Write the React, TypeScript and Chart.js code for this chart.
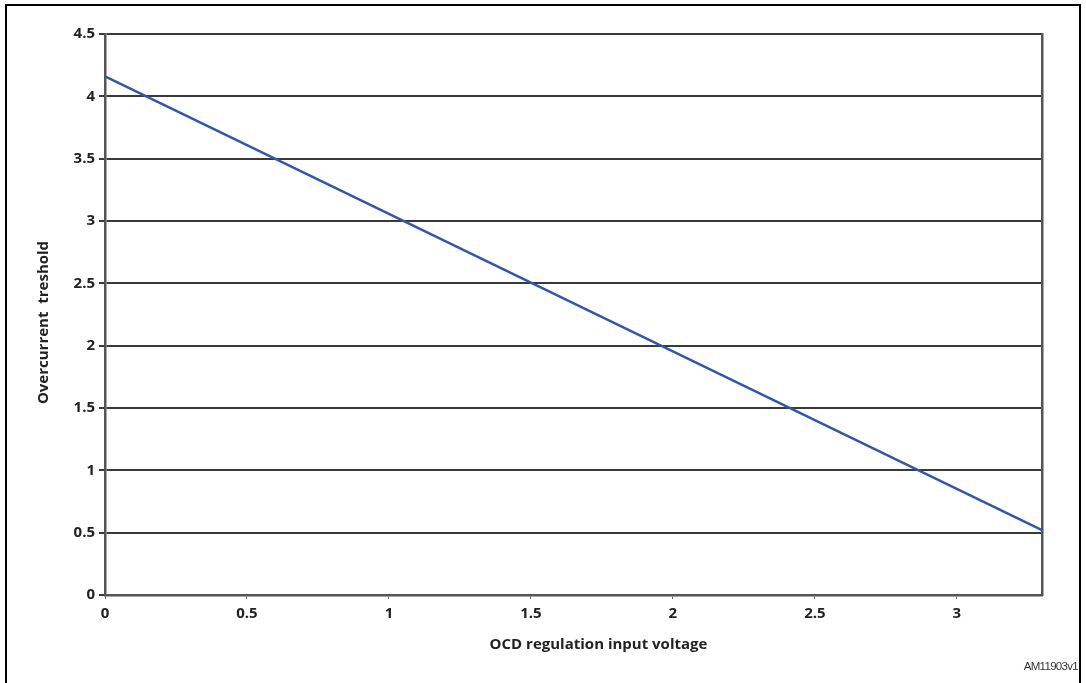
import React, { useEffect, useRef } from "react";
import { Chart, registerables } from "chart.js";

Chart.register(...registerables);

const xValues = [0, 3.3];
const yValues = [4.16, 0.52];
const seriesLabel = "Overcurrent treshold";
const xTitle = "OCD regulation input voltage";
const yTitle = "Overcurrent  treshold";
const figureId = "AM11903v1";

const FAMILY = "'Open Sans', 'Liberation Sans', sans-serif";

const titlePlugin = {
  id: "axisTitles",
  afterDraw(chart: any) {
    const { ctx, chartArea } = chart;
    ctx.save();
    ctx.fillStyle = "#222";
    ctx.font = `bold 15px ${FAMILY}`;
    ctx.textAlign = "center";
    ctx.textBaseline = "middle";
    ctx.fillText(xTitle, (chartArea.left + chartArea.right) / 2 + 25, chartArea.bottom + 50);
    ctx.translate(44, (chartArea.top + chartArea.bottom) / 2 + 8);
    ctx.rotate(-Math.PI / 2);
    ctx.fillText(yTitle, 0, 0);
    ctx.restore();
  },
};

export default function App() {
  const ref = useRef<HTMLCanvasElement | null>(null);

  useEffect(() => {
    if (!ref.current) return;
    const font = { family: FAMILY, size: 15, weight: "bold" as const };
    const fmt = (v: any) => String(Number(v));
    const chart = new Chart(ref.current, {
      type: "scatter",
      data: {
        datasets: [
          {
            label: seriesLabel,
            data: xValues.map((x, i) => ({ x, y: yValues[i] })),
            showLine: true,
            borderColor: "#3556a3",
            borderWidth: 2.5,
            pointRadius: 0,
            fill: false,
          },
        ],
      },
      options: {
        animation: false,
        responsive: false,
        devicePixelRatio: 1,
        layout: { padding: { left: 0, top: 34, right: 44, bottom: 28 } },
        plugins: { legend: { display: false }, tooltip: { enabled: false } },
        scales: {
          x: {
            type: "linear",
            min: 0,
            max: 3.3,
            afterBuildTicks: (s: any) => {
              s.ticks = s.ticks.filter((t: any) => Math.abs(t.value * 2 - Math.round(t.value * 2)) < 1e-9);
            },
            afterFit: (s: any) => {
              s.height = 60;
            },
            ticks: { stepSize: 0.5, color: "#222", font, padding: 6, maxRotation: 0, callback: fmt },
            grid: { drawOnChartArea: false, drawTicks: true, tickLength: 4, color: "#666", lineWidth: 1 },
            border: { display: true, color: "#555", width: 2.5 },
            title: { display: false },
          },
          y: {
            type: "linear",
            min: 0,
            max: 4.5,
            afterFit: (s: any) => {
              s.width = 105;
            },
            ticks: { stepSize: 0.5, color: "#222", font, padding: 4, callback: fmt },
            grid: { color: "#3a3a3a", lineWidth: 2, drawTicks: true, tickLength: 6 },
            border: { display: true, color: "#555", width: 2.5 },
            title: { display: false },
          },
          y2: {
            type: "linear",
            position: "right",
            min: 0,
            max: 4.5,
            afterFit: (s: any) => {
              s.width = 0;
            },
            ticks: { display: false },
            grid: { display: false, drawTicks: false },
            border: { display: true, color: "#555", width: 2.5 },
          },
        },
      },
      plugins: [titlePlugin],
    });
    return () => chart.destroy();
  }, []);

  return (
    <div style={{ position: "absolute", left: 0, top: 0, width: 1086, height: 683, background: "#fff", overflow: "hidden" }}>
      <div
        style={{
          position: "absolute",
          left: 5,
          top: 4,
          width: 1076,
          height: 700,
          border: "2.5px solid #000",
          boxSizing: "border-box",
        }}
      />
      <canvas ref={ref} width={1086} height={683} style={{ position: "absolute", left: 0, top: 0 }} />
      <div
        style={{
          position: "absolute",
          right: 8,
          top: 660,
          fontFamily: "'Liberation Sans', Arial, sans-serif",
          fontSize: 11.5,
          letterSpacing: -0.7,
          color: "#333",
        }}
      >
        {figureId}
      </div>
    </div>
  );
}
